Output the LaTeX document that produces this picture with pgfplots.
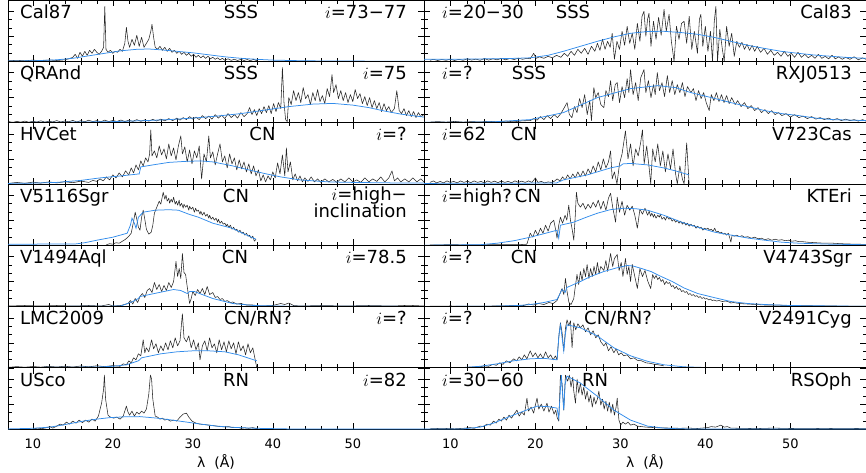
\documentclass[border=0pt]{standalone}
\usepackage{pgfplots}
\pgfplotsset{compat=1.18}
\usepackage{fontspec}
\setmainfont{DejaVu Sans}
\definecolor{modelblue}{RGB}{50,140,235}
\tikzset{lab/.style={font=\fontsize{18}{20}\selectfont, inner sep=0pt}}
\pgfplotsset{
  panel/.style={
    scale only axis, height=61.3pt,
    xmin=6.9, xmax=58.9, ymin=0, ymax=61.3,
    xtick={10,20,30,40,50}, minor x tick num=4,
    ytick={0,25,50}, minor y tick num=2,
    yticklabels={}, xticklabels={},
    major tick length=6pt, minor tick length=3.5pt,
    tick style={black, line width=0.5pt},
    axis line style={line width=0.7pt},
    anchor=north west, clip mode=individual,
  },
  L/.style={panel, width=416pt},
  R/.style={panel, width=442pt},
  bottom/.style={xticklabels={10,20,30,40,50},
    xticklabel shift=6pt,
    x tick label style={font=\fontsize{13}{15}\selectfont}},
  spec/.style={black!85, line width=0.55pt, mark=none, line join=round},
  model/.style={modelblue, line width=0.75pt, mark=none},
}
\begin{document}
\begin{tikzpicture}
\useasboundingbox (0pt,0pt) rectangle (866pt,-472pt);
% ---------------- Row 0 left: Cal87
\begin{axis}[L, at={(8pt,0pt)}]
\addplot[spec] coordinates {(7,0.5)(8,1)(9,0.5)(10,1.2)(11,0.6)(12,1.3)(13,0.8)(14,1.5)(14.5,2.5)(15,4)(15.3,7)(15.6,3)(15.9,9)(16.2,5)(16.5,10)(16.8,6)(17.1,11)(17.4,8)(17.7,12)(18,9)(18.3,7)(18.6,10)(18.85,14)(19.0,55)(19.15,12)(19.4,9)(19.7,11)(20,8)(20.3,10)(20.6,9)(20.9,12)(21.2,10)(21.5,18)(21.7,34)(21.9,20)(22.1,14)(22.4,22)(22.7,16)(23.0,26)(23.3,15)(23.6,24)(23.9,14)(24.2,18)(24.5,22)(24.75,30)(24.9,37)(25.1,24)(25.3,14)(25.6,12)(25.9,15)(26.2,11)(26.5,14)(26.8,10)(27.1,13)(27.4,9)(27.7,11)(28,8)(28.3,10)(28.6,7)(28.9,9)(29.2,6)(29.5,8)(29.8,5)(30.1,7)(30.4,4)(30.7,6)(31,3.5)(31.3,5.5)(31.6,3)(31.9,5)(32.2,2.5)(32.5,4)(32.8,2)(33.1,3.5)(33.4,1.5)(33.7,3)(34,1)(34.4,2.5)(34.8,1)(35.2,2)(35.6,0.8)(36,2)(36.4,0.8)(36.8,1.8)(37.2,0.6)(37.6,2)(38,0.5)};
\addplot[model] coordinates {(6.9,0.3)(10,0.5)(13,1.5)(15,3)(17,5.5)(19,8)(21,10.5)(23,12)(24.5,12.3)(26,11.5)(28,10)(30,8.5)(32,6.5)(34,4.5)(36,3)(38,2)(40,1.2)(44,0.5)(50,0.2)(58.9,0.1)};
\node[lab, anchor=base west] at (rel axis cs:0,1) [xshift=12pt, yshift=-18.3pt] {Cal87};
\node[lab, anchor=base] at (rel axis cs:0,1) [xshift=233pt, yshift=-18.3pt] {SSS};
\node[lab, anchor=base east] at (rel axis cs:1,1) [xshift=-17pt, yshift=-18.3pt] {$i$=73−77};
\end{axis}
% ---------------- Row 0 right: Cal83
\begin{axis}[R, at={(424pt,0pt)}]
\addplot[spec] coordinates {(7.6,1)(8,2)(8.5,0.8)(9,1.8)(9.5,1)(10,2.2)(10.5,0.8)(11,2)(11.5,1)(12,2.5)(12.5,1.2)(13,2.2)(13.5,1)(14,2.8)(14.5,1.2)(15,2.5)(15.5,1.5)(16,3)(16.5,1.5)(17,2.8)(17.5,1.8)(18,3.2)(18.5,2)(19,3)(19.4,2.5)(19.8,8)(20.1,3)(20.5,4.5)(21,3)(21.5,5)(22,3.5)(22.5,6)(23,4)(23.4,8)(23.8,5)(24.2,10)(24.6,6)(25,12)(25.4,8)(25.8,13)(26.2,7)(26.6,15)(27,10)(27.3,18)(27.6,11)(27.9,22)(28.2,12)(28.5,20)(28.8,14)(29.04,28)(29.3,2)(29.6,20)(29.9,12)(30.2,30)(30.5,16)(30.8,35)(31.1,18)(31.4,28)(31.7,12)(32.0,38)(32.3,20)(32.55,45)(32.78,50)(33.0,25)(33.2,42)(33.37,48)(33.6,15)(33.9,40)(34.2,22)(34.5,44)(34.8,26)(35.14,52)(35.4,30)(35.73,47)(36.0,20)(36.32,0)(36.6,35)(36.9,22)(37.2,38)(37.5,40)(37.8,18)(38.1,45)(38.4,12)(38.7,30)(39.07,8)(39.3,42)(39.47,47)(39.7,15)(40.0,35)(40.3,10)(40.6,30)(40.84,0)(41.05,40)(41.24,55)(41.43,0)(41.7,32)(42.0,12)(42.22,0)(42.5,35)(42.8,15)(43.1,28)(43.4,5)(43.7,20)(44.0,14)(44.3,19)(44.6,12)(44.9,17)(45.2,11)(45.5,16)(45.8,10)(46.1,15)(46.5,9)(46.9,13)(47.3,7)(47.7,11)(48.1,6)(48.5,9)(48.9,5)(49.3,10)(49.7,5)(50.1,8)(50.5,4)(50.9,9)(51.3,4)(51.7,7)(52.1,3.5)(52.5,6)(52.9,3)(53.3,7)(53.7,3)(54.1,5)(54.5,2.5)(54.9,6)(55.3,2.5)(55.7,4.5)(56.1,2)(56.5,4)(57,2)(57.5,4.5)(58,1.5)(58.5,3.5)(58.9,2)};
\addplot[model] coordinates {(6.9,2)(12,2.2)(17,2.8)(19.4,3.5)(21.5,6)(23.3,10)(25.3,15)(27.3,20)(29.3,24.5)(31.2,28)(33.2,29.8)(35.1,30)(37.1,28.8)(39.1,27)(41,24)(43,20)(45,16)(46.9,13)(48.9,10)(50.9,8)(52.8,6.3)(54.8,5)(56.8,3.8)(58.9,3)};
\node[lab, anchor=base west] at (rel axis cs:0,1) [xshift=18pt, yshift=-18.3pt] {$i$=20−30};
\node[lab, anchor=base] at (rel axis cs:0,1) [xshift=149pt, yshift=-18.3pt] {SSS};
\node[lab, anchor=base east] at (rel axis cs:1,1) [xshift=-14pt, yshift=-18.3pt] {Cal83};
\end{axis}
% ---------------- Row 1 left: QRAnd
\begin{axis}[L, at={(8pt,-61.3pt)}]
\addplot[spec] coordinates {(7,1)(7.5,0.3)(8,1.2)(8.5,0.5)(9,1.5)(9.5,0.4)(10,1.3)(10.5,0.6)(11,1.8)(11.5,0.5)(12,1.4)(12.5,0.7)(13,2)(13.5,0.6)(14,1.6)(14.5,0.8)(15,2.2)(15.5,0.7)(16,1.9)(16.5,0.9)(17,2.4)(17.5,1)(18,2)(18.5,0.8)(19,2.5)(19.5,1)(20,2.2)(20.5,1.1)(21,2.6)(21.5,1)(22,2.4)(22.5,1.2)(23,3)(23.5,1.3)(24,2.7)(24.5,1.5)(25,3.2)(25.5,1.6)(26,3.5)(26.5,1.8)(27,4)(27.5,2)(28,4.5)(28.4,2.5)(28.8,5)(29.2,3)(29.6,6)(30,3.5)(30.4,5.5)(30.8,3)(31.2,7)(31.6,4)(32,6.5)(32.4,3.5)(32.8,8)(33.2,4.5)(33.6,7.5)(34,4)(34.4,9)(34.8,5)(35.2,8)(35.6,4.5)(36,10)(36.4,6)(36.8,9)(37.1,15)(37.4,8)(37.7,13)(38,7)(38.3,14)(38.6,9)(38.9,16)(39.2,10)(39.5,17)(39.8,9)(40.1,19)(40.4,11)(40.7,20)(41.0,14)(41.2,55)(41.4,20)(41.6,3)(41.8,1)(42.0,25)(42.3,18)(42.6,32)(42.9,22)(43.2,30)(43.5,20)(43.8,35)(44.1,24)(44.4,28)(44.7,18)(45,30)(45.3,22)(45.6,33)(45.9,21)(46.2,27)(46.5,19)(46.8,34)(47.1,26)(47.4,48)(47.6,30)(47.9,38)(48.2,24)(48.5,32)(48.8,22)(49.1,30)(49.4,20)(49.7,28)(50,21)(50.3,33)(50.6,24)(50.9,29)(51.2,19)(51.5,26)(51.8,17)(52.1,25)(52.4,15)(52.7,22)(53,14)(53.3,20)(53.6,11)(53.9,19)(54.2,12)(54.5,16)(54.8,10)(55.2,14)(55.5,32)(55.8,12)(56.1,9)(56.4,14)(56.7,7)(57,12)(57.3,6)(57.6,11)(57.9,5)(58.2,10)(58.5,6)(58.9,8)};
\addplot[model] coordinates {(6.9,0.1)(15,0.5)(20,1)(24,2)(27,3)(30,4.5)(33,6.5)(36,9)(39,12.5)(42,16)(45,18.5)(47.5,19.2)(50,17.5)(52,15)(54,11.5)(56,8.5)(58.9,5.5)};
\node[lab, anchor=base west] at (rel axis cs:0,1) [xshift=12pt, yshift=-18.3pt] {QRAnd};
\node[lab, anchor=base] at (rel axis cs:0,1) [xshift=233pt, yshift=-18.3pt] {SSS};
\node[lab, anchor=base east] at (rel axis cs:1,1) [xshift=-17pt, yshift=-18.3pt] {$i$=75};
\end{axis}
% ---------------- Row 1 right: RXJ0513
\begin{axis}[R, at={(424pt,-61.3pt)}]
\addplot[spec] coordinates {(7.6,0.5)(8.5,1)(9.5,0.5)(10.5,1.2)(11.5,0.5)(12.5,1)(13.5,0.6)(14.5,1.3)(15.5,0.7)(16.5,1.5)(17.5,0.8)(18.5,1.8)(19.4,2)(19.8,4)(20.2,2.5)(20.6,6)(21,3)(21.4,7)(21.8,4)(22.2,8)(22.6,5)(23.0,9)(23.34,14)(23.73,20)(24.0,8)(24.3,5)(24.6,16)(24.9,10)(25.2,24)(25.5,15)(25.8,28)(26.1,8)(26.4,22)(26.6,2)(26.88,35)(27.1,25)(27.4,30)(27.7,18)(28.06,15)(28.3,32)(28.6,26)(28.85,42)(29.1,22)(29.4,38)(29.63,40)(29.9,20)(30.2,36)(30.5,25)(30.8,44)(31.0,30)(31.2,53)(31.5,28)(31.8,40)(32.1,22)(32.4,45)(32.78,53)(33.0,30)(33.3,42)(33.6,25)(33.9,38)(34.1,28)(34.35,50)(34.6,32)(34.9,40)(35.2,26)(35.53,47)(35.8,30)(36.1,42)(36.4,28)(36.7,38)(37.0,30)(37.3,40)(37.6,26)(37.9,36)(38.3,30)(38.6,34)(38.9,22)(39.2,32)(39.5,24)(39.8,30)(40.1,20)(40.45,12)(40.7,28)(41,22)(41.3,30)(41.6,21)(41.9,28)(42.2,20)(42.5,27)(42.8,19)(43.1,25)(43.5,18)(43.8,22)(44.2,16)(44.6,20)(45,14)(45.4,17)(45.8,12)(46.2,15)(46.6,10)(47,13)(47.4,9)(47.8,12)(48.2,8)(48.6,10)(49,7)(49.5,9)(50,5.5)(50.5,8)(51,5)(51.5,6.5)(52,4)(52.5,6)(53,3.5)(53.5,5)(54,3)(54.5,4.5)(55,2.5)(55.5,4)(56,2)(56.5,3.5)(57,2)(57.5,3)(58,1.5)(58.5,3)(58.9,1.5)};
\addplot[model] coordinates {(6.9,0.3)(13,0.5)(15.5,1)(19.4,3)(23.3,10)(27.3,25)(31.2,34)(34.4,37)(36.5,35)(38.3,30)(40.7,25)(43,20)(45,16)(47,12)(49,9)(51,7)(53,4.5)(55,3)(57,2.5)(58.9,2)};
\node[lab, anchor=base west] at (rel axis cs:0,1) [xshift=18pt, yshift=-18.3pt] {$i$=?};
\node[lab, anchor=base] at (rel axis cs:0,1) [xshift=105pt, yshift=-18.3pt] {SSS};
\node[lab, anchor=base east] at (rel axis cs:1,1) [xshift=-14pt, yshift=-18.3pt] {RXJ0513};
\end{axis}
% ---------------- Row 2 left: HVCet
\begin{axis}[L, at={(8pt,-122.6pt)}]
\addplot[spec] coordinates {(7,0.5)(8,1.5)(9,0.6)(10,1.8)(11,0.8)(12,2)(13,1)(14,2.2)(15,1.2)(16,2.8)(17,1.5)(17.5,3.5)(18,2.5)(18.4,5)(18.8,3)(19.2,7)(19.6,4)(20,9)(20.4,6)(20.8,11)(21.2,7)(21.6,13)(22,9)(22.3,16)(22.6,11)(22.9,19)(23.2,14)(23.5,23)(23.8,18)(24.1,26)(24.4,22)(24.6,30)(24.75,54)(24.9,28)(25.2,33)(25.5,26)(25.8,38)(26.1,29)(26.4,35)(26.7,25)(27.0,40)(27.3,28)(27.6,36)(27.9,24)(28.2,38)(28.5,48)(28.7,30)(29.0,37)(29.3,22)(29.6,34)(29.9,20)(30.2,33)(30.5,26)(30.8,38)(31.1,5)(31.4,30)(31.7,22)(32.0,48)(32.2,26)(32.5,32)(32.8,19)(33.1,30)(33.4,40)(33.7,22)(34.0,28)(34.3,16)(34.6,30)(34.9,20)(35.2,26)(35.5,14)(35.8,24)(36.1,15)(36.4,22)(36.7,12)(37.0,20)(37.3,10)(37.6,18)(37.9,8)(38.2,14)(38.5,3)(38.8,9)(39.1,2)(39.4,8)(39.7,4)(40.0,12)(40.3,6)(40.6,21)(40.9,10)(41.2,29)(41.5,8)(41.7,36)(41.9,12)(42.2,22)(42.5,4)(42.8,10)(43.1,3)(43.4,8)(43.7,2)(44,6)(44.4,2.5)(44.8,7)(45.2,2)(45.6,5)(46,1.5)(46.5,5)(47,2)(47.5,4.5)(48,1.5)(48.5,5)(49,2)(49.5,6)(50,2)(50.5,4)(51,1.5)(51.5,6)(52,2)(52.5,5)(53,2.5)(53.5,7)(54,2)(54.5,6)(54.9,13)(55.2,3)(55.6,6)(56,2)(56.5,5)(57,2)(57.5,6)(58,2)(58.5,5)(58.9,2)};
\addplot[model] coordinates {(6.9,0.5)(10,0.8)(13,1.5)(16,3.5)(18.4,6)(21,8)(23.3,10)(23.5,17)(25,19)(27,21.5)(29,22.5)(31,23)(32.5,22)(35,18)(37,14)(39.2,10)(41,7)(43.4,4)(47,2)(50,1.5)(55,1)(58.9,0.8)};
\node[lab, anchor=base west] at (rel axis cs:0,1) [xshift=12pt, yshift=-18.3pt] {HVCet};
\node[lab, anchor=base] at (rel axis cs:0,1) [xshift=254.5pt, yshift=-18.3pt] {CN};
\node[lab, anchor=base east] at (rel axis cs:1,1) [xshift=-17pt, yshift=-18.3pt] {$i$=?};
\end{axis}
% ---------------- Row 2 right: V723Cas
\begin{axis}[R, at={(424pt,-122.6pt)}]
\addplot[spec] coordinates {(7.6,1.5)(8,3)(8.4,1)(8.8,2.5)(9.2,1)(9.6,3)(10,1.5)(10.4,2.5)(10.8,1)(11.2,3)(11.6,1.5)(12,2.8)(12.4,1.2)(12.8,3)(13.2,1.5)(13.6,2.5)(14,1)(14.4,3)(14.8,1.5)(15.2,2.8)(15.6,1.2)(16,3)(16.4,1.5)(16.8,2.5)(17.2,1.2)(17.6,3)(18,1.5)(18.4,2.8)(18.8,1.5)(19.2,3)(19.6,1.5)(20,6)(20.3,1.5)(20.7,2.5)(21.1,1)(21.5,2)(21.9,1.5)(22.3,3)(22.55,5)(22.9,3)(23.2,7)(23.5,4)(23.8,9)(24.1,5)(24.4,10)(24.7,6)(25.0,12)(25.3,7)(25.6,13)(25.9,8)(26.2,15)(26.5,10)(26.8,18)(27.1,12)(27.4,22)(27.7,14)(28.0,25)(28.3,16)(28.6,22)(28.85,33)(29.04,5)(29.3,12)(29.6,0)(29.9,20)(30.2,30)(30.6,53)(30.9,25)(31.2,40)(31.5,18)(31.8,35)(32.1,28)(32.4,42)(32.6,54)(32.8,20)(33.1,38)(33.4,15)(33.57,0)(33.8,35)(34.1,22)(34.4,40)(34.7,18)(35.0,33)(35.3,12)(35.6,30)(35.9,15)(36.2,35)(36.5,10)(36.7,0)(37.0,18)(37.3,5)(37.5,0)(37.8,41)(38.09,0)};
\addplot[model] coordinates {(6.9,0.5)(20,0.8)(22.5,1)(23.3,4)(26.1,9)(28.85,16)(30.0,18)(30.3,20)(31.2,20.5)(33.2,19)(35.1,16)(36.5,13)(38.09,9)};
\node[lab, anchor=base west] at (rel axis cs:0,1) [xshift=18pt, yshift=-18.3pt] {$i$=62};
\node[lab, anchor=base] at (rel axis cs:0,1) [xshift=100pt, yshift=-18.3pt] {CN};
\node[lab, anchor=base east] at (rel axis cs:1,1) [xshift=-14pt, yshift=-18.3pt] {V723Cas};
\end{axis}
% ---------------- Row 3 left: V5116Sgr
\begin{axis}[L, at={(8pt,-183.9pt)}]
\addplot[spec] coordinates {(19.2,0.5)(19.6,1.5)(20,1)(20.4,2.5)(20.8,2)(21.2,4)(21.6,6)(22.0,9)(22.3,12)(22.6,24)(22.8,33)(23.0,26)(23.2,18)(23.4,15)(23.6,28)(23.8,35)(24.0,26)(24.2,16)(24.5,11)(24.8,13)(25.0,20)(25.2,32)(25.5,38)(25.8,44)(26.0,41)(26.3,53)(26.5,46)(26.65,50)(26.8,44)(27.0,47)(27.1,42)(27.3,46)(27.45,43)(27.6,48)(27.8,41)(27.95,44)(28.1,40)(28.3,45)(28.4,39)(28.6,42)(28.8,37)(28.9,41)(29.1,38)(29.3,40)(29.5,35)(29.6,39)(29.8,36)(30.0,38)(30.2,33)(30.35,37)(30.5,34)(30.7,35)(30.9,31)(31.0,34)(31.2,30)(31.4,33)(31.6,29)(31.8,31)(32.0,27)(32.1,30)(32.3,26)(32.5,28)(32.7,25)(32.9,27)(33.1,23)(33.2,26)(33.4,22)(33.6,24)(33.8,21)(34.0,22)(34.2,19)(34.3,21)(34.5,18)(34.7,20)(34.9,16)(35.1,18)(35.3,15)(35.5,16)(35.7,13)(35.9,15)(36.1,12)(36.3,13)(36.5,10)(36.7,12)(36.9,9)(37.1,10)(37.3,7)(37.5,9)(37.7,4)(37.9,6)};
\addplot[model] coordinates {(6.9,1)(15.3,1.2)(16.5,2.5)(18,5)(20,8)(21.8,12)(22.2,20)(22.4,27)(22.7,22)(22.9,17)(23.2,28)(23.8,33)(25.3,35)(27,35.5)(28.2,35)(29.5,31)(30.7,28)(32.5,22)(34.9,17)(36.5,11)(37.9,6)};
\node[lab, anchor=base west] at (rel axis cs:0,1) [xshift=12pt, yshift=-18.3pt] {V5116Sgr};
\node[lab, anchor=base] at (rel axis cs:0,1) [xshift=228pt, yshift=-18.3pt] {CN};
\node[lab, anchor=base east] at (rel axis cs:1,1) [xshift=-17pt, yshift=-17pt] {$i$=high−};
\node[lab, anchor=base east] at (rel axis cs:1,1) [xshift=-17pt, yshift=-34pt] {inclination};
\end{axis}
% ---------------- Row 3 right: KTEri
\begin{axis}[R, at={(424pt,-183.9pt)}]
\addplot[spec] coordinates {(7.6,0.3)(10,0.5)(13,0.3)(16,0.6)(18,0.5)(19.0,1)(19.4,12)(19.7,8)(20.0,15)(20.3,10)(20.6,17)(20.9,12)(21.2,20)(21.5,14)(21.8,22)(22.16,25)(22.4,15)(22.55,7)(22.75,20)(22.95,28)(23.2,22)(23.5,30)(23.7,25)(23.93,40)(24.13,25)(24.35,15)(24.52,5)(24.7,30)(24.83,53)(25.0,42)(25.3,38)(25.6,42)(25.9,36)(26.2,41)(26.5,37)(26.8,43)(27.1,38)(27.4,45)(27.7,36)(28.0,44)(28.3,35)(28.6,47)(28.85,52)(29.1,38)(29.44,23)(29.63,48)(29.9,33)(30.2,44)(30.5,30)(30.8,40)(31.1,35)(31.4,39)(31.7,30)(32.0,17)(32.3,36)(32.6,31)(32.9,37)(33.2,30)(33.4,34)(33.55,29)(33.7,32)(33.9,28)(34.0,31)(34.2,27)(34.4,30)(34.6,28)(34.7,31)(34.9,26)(35.14,28)(35.3,25)(35.5,29)(35.7,26)(35.9,27)(36.1,24)(36.3,26)(36.5,23)(36.7,25)(36.9,22)(37.1,24)(37.3,21)(37.5,23)(37.7,20)(37.9,22)(38.1,19)(38.3,21)(38.5,19)(38.7,20)(38.9,17)(39.1,19)(39.3,17)(39.5,18)(39.7,15)(39.9,17)(40.1,16)(40.3,17)(40.5,15)(40.7,16)(40.9,14)(41.1,17)(41.3,13)(41.5,14)(41.7,12)(41.9,13)(42.1,11)(42.3,12)(42.5,10)(42.7,12)(42.85,8)(43.0,3)(43.15,10)(43.4,9)(43.7,10)(44.0,8.5)(44.3,9.5)(44.6,8)(45,8.5)(45.4,7)(45.8,8)(46.2,6.5)(46.6,7)(47,5.5)(47.4,6.5)(47.8,5)(48.2,6)(48.6,5)(49,5.5)(49.4,4.5)(49.8,5)(50.2,4)(50.6,4.5)(51,3.5)(51.5,3.5)(52,3)(53,2.5)(54,2)(55,2)(56,1.5)(57,1.2)(58,1)(58.9,0.8)};
\addplot[model] coordinates {(6.9,0)(13.5,0.5)(15.5,2)(17.5,4.5)(19.4,8)(21,11.5)(22.55,15)(22.75,7)(22.95,20)(24.5,23)(26,28)(27.3,32)(28.8,35.5)(30.4,37)(31.8,36.5)(33.2,35)(35.1,30)(37.2,23)(39.1,18)(41.1,13)(43.1,10)(45.1,7)(47,5)(49,3)(51,2)(54.8,1)(58.9,0.5)};
\node[lab, anchor=base west] at (rel axis cs:0,1) [xshift=18pt, yshift=-18.3pt] {$i$=high?};
\node[lab, anchor=base] at (rel axis cs:0,1) [xshift=104pt, yshift=-18.3pt] {CN};
\node[lab, anchor=base east] at (rel axis cs:1,1) [xshift=-14pt, yshift=-18.3pt] {KTEri};
\end{axis}
% ---------------- Row 4 left: V1494Aql
\begin{axis}[L, at={(8pt,-245.2pt)}]
\addplot[spec] coordinates {(7,0.5)(9,1)(11,0.5)(13,1)(15,0.5)(17,1)(18.5,0.5)(19.5,2)(20,0.5)(21,1)(21.9,3)(22.2,6)(22.5,2.5)(22.8,8)(23.1,4)(23.4,10)(23.7,13)(24.0,9)(24.3,16)(24.6,18)(24.9,14)(25.2,24)(25.5,17)(25.8,22)(26.1,15)(26.4,21)(26.7,16)(27.0,24)(27.3,19)(27.6,25)(27.9,45)(28.1,30)(28.3,38)(28.5,28)(28.7,53)(28.9,34)(29.1,32)(29.3,20)(29.6,3)(29.8,8)(30.0,15)(30.3,11)(30.6,17)(30.9,13)(31.2,18)(31.5,12)(31.8,20)(32.1,12)(32.5,14)(32.8,9)(33.1,10)(33.4,7)(33.7,8)(34.0,5)(34.3,6)(34.7,4)(35.0,4.5)(35.5,2.5)(36,3)(36.7,1.5)(37.5,1.5)(38.5,0.5)(40,1)(40.5,2)(41,3)(41.5,2)(42,3.5)(42.6,1)(43.5,0.5)(46,1)(49,0.5)(52,1)(55,0.5)(57,1.2)(58.9,0.5)};
\addplot[model] coordinates {(6.9,0)(18,0.2)(21,0.5)(22.5,5)(23.2,8)(23.4,10)(25.5,13.5)(27.6,17)(28.5,16)(29.3,13)(29.6,15)(30.2,15)(31,12.5)(32.5,8)(35,3)(37.6,1)(42,0.3)(58.9,0.1)};
\node[lab, anchor=base west] at (rel axis cs:0,1) [xshift=12pt, yshift=-18.3pt] {V1494Aql};
\node[lab, anchor=base] at (rel axis cs:0,1) [xshift=227pt, yshift=-18.3pt] {CN};
\node[lab, anchor=base east] at (rel axis cs:1,1) [xshift=-17pt, yshift=-18.3pt] {$i$=78.5};
\end{axis}
% ---------------- Row 4 right: V4743Sgr
\begin{axis}[R, at={(424pt,-245.2pt)}]
\addplot[spec] coordinates {(7.6,0.3)(10,0.5)(13,0.3)(16,0.6)(18.62,1)(19.2,2.5)(19.8,1.5)(20.4,3)(21,2)(21.6,4)(22.1,3)(22.55,6)(22.85,12)(23.14,18)(23.35,12)(23.54,28)(23.73,15)(23.95,4)(24.2,2)(24.52,8)(24.7,20)(24.9,32)(25.1,22)(25.3,35)(25.5,26)(25.7,38)(25.9,30)(26.09,42)(26.3,28)(26.5,38)(26.7,30)(26.9,40)(27.1,32)(27.3,44)(27.5,33)(27.7,40)(28.06,36)(28.3,46)(28.5,35)(28.85,53)(29.1,40)(29.3,48)(29.63,52)(29.85,36)(30.1,44)(30.3,30)(30.6,48)(30.8,32)(31.0,40)(31.2,25)(31.4,42)(31.7,30)(32.0,18)(32.3,38)(32.6,30)(32.9,36)(33.2,26)(33.57,18)(33.8,32)(34.0,28)(34.2,31)(34.4,27)(34.6,29)(34.8,25)(35.0,27)(35.2,22)(35.4,25)(35.6,23)(35.8,24)(36.0,20)(36.2,21)(36.4,18)(36.6,20)(36.8,17)(37.0,18)(37.2,15)(37.4,16)(37.6,14)(37.8,15)(38.0,12)(38.2,13)(38.4,11)(38.6,12)(38.8,10)(39.0,11)(39.2,9)(39.4,10)(39.6,8)(39.8,9)(40.0,7.5)(40.2,8)(40.4,6.5)(40.6,7.5)(40.8,6)(41.0,6.5)(41.3,5.5)(41.6,6)(42.0,5)(42.4,5.5)(42.8,4.5)(43.0,3.5)(43.3,4)(44,3)(45,2.5)(46,2)(47,1.5)(48,1.5)(50,1)(52,0.8)(55,0.5)(58.9,0.4)};
\addplot[model] coordinates {(6.9,0)(15,0.3)(18,1)(19.4,2)(21,4)(22.55,7)(23.14,17)(23.5,14)(23.7,19)(25.3,25)(26.5,30)(28.06,35)(29.5,38.5)(30.8,41)(31.5,40.5)(32.5,38)(33.6,35)(34.8,30)(36.1,25)(37.5,18.5)(39.1,13)(41,9)(43,5)(45,3)(47,2)(50,1)(58.9,0.2)};
\node[lab, anchor=base west] at (rel axis cs:0,1) [xshift=18pt, yshift=-18.3pt] {$i$=?};
\node[lab, anchor=base] at (rel axis cs:0,1) [xshift=100pt, yshift=-18.3pt] {CN};
\node[lab, anchor=base east] at (rel axis cs:1,1) [xshift=-14pt, yshift=-18.3pt] {V4743Sgr};
\end{axis}
% ---------------- Row 5 left: LMC2009
\begin{axis}[L, at={(8pt,-306.5pt)}]
\addplot[spec] coordinates {(7,0.5)(8,1.2)(9,0.6)(10,1.3)(11,0.7)(12,1.5)(13,0.8)(14,1.6)(15,0.8)(16,1.8)(17,1)(18,2)(19,1.2)(20,2.2)(20.9,1.5)(21.3,4)(21.7,3)(22.0,7)(22.3,5)(22.6,10)(22.9,8)(23.2,14)(23.5,12)(23.8,28)(24.0,15)(24.2,20)(24.5,16)(24.85,28)(25.1,19)(25.4,24)(25.7,15)(26.0,22)(26.3,17)(26.6,25)(26.9,18)(27.2,27)(27.5,20)(27.8,30)(28.1,22)(28.4,27)(28.7,54)(28.9,30)(29.2,26)(29.5,32)(29.8,20)(30.1,28)(30.4,18)(30.7,25)(30.9,8)(31.2,22)(31.5,27)(31.8,17)(32.1,30)(32.4,20)(32.7,24)(33.0,15)(33.3,28)(33.6,18)(33.9,26)(34.2,16)(34.5,27)(34.8,19)(35.1,25)(35.4,14)(35.7,26)(36.0,17)(36.3,22)(36.6,13)(36.9,24)(37.2,15)(37.5,20)(37.8,8)(38.0,0)};
\addplot[model] coordinates {(6.9,0.2)(18,0.8)(20,1.5)(21.7,3)(23.2,7)(23.6,10)(26,14)(28,16)(30,17)(32,17)(34,16)(35.7,13)(38,7)};
\node[lab, anchor=base west] at (rel axis cs:0,1) [xshift=12pt, yshift=-18.3pt] {LMC2009};
\node[lab, anchor=base] at (rel axis cs:0,1) [xshift=250pt, yshift=-18.3pt] {CN/RN?};
\node[lab, anchor=base east] at (rel axis cs:1,1) [xshift=-17pt, yshift=-18.3pt] {$i$=?};
\end{axis}
% ---------------- Row 5 right: V2491Cyg
\begin{axis}[R, at={(424pt,-306.5pt)}]
\addplot[spec] coordinates {(7.6,0)(10,0.3)(12,0.5)(13.5,1)(14,2)(14.5,1.5)(15,3.5)(15.4,2.5)(15.8,5)(16.2,3.5)(16.6,7)(17.0,5)(17.44,9)(17.8,7)(18.1,11)(18.4,8)(18.7,13)(19.0,9)(19.4,17)(19.7,11)(20.0,15)(20.3,10)(20.6,14)(20.9,9)(21.2,16)(21.5,10)(21.8,13)(22.1,8)(22.35,12)(22.55,8)(22.75,30)(22.95,45)(23.15,35)(23.34,17)(23.55,40)(23.73,48)(23.93,42)(24.13,47)(24.32,20)(24.52,45)(24.75,38)(25.0,44)(25.3,40)(25.6,43)(25.9,36)(26.2,40)(26.5,33)(26.8,37)(27.1,30)(27.4,33)(27.7,26)(28.06,22)(28.3,25)(28.6,17)(28.9,21)(29.24,15)(29.5,19)(29.8,13)(30.1,15)(30.4,12)(30.8,13)(31.2,9)(31.6,10)(32,7.5)(32.5,7)(33,5)(33.5,4.5)(34,3.5)(34.5,3)(35.1,2)};
\addplot[model] coordinates {(6.9,0)(11.5,0.3)(13.5,1.5)(15.5,4)(17.44,7)(19.4,9)(21,9.5)(22.55,8)(22.8,35)(22.95,43)(23.15,30)(23.34,17)(23.55,35)(23.73,43)(25.3,40)(27.27,32)(29.24,20)(31.2,12)(33.2,6.5)(35.14,3)(37.5,1)(40,0.3)(45,0)};
\node[lab, anchor=base west] at (rel axis cs:0,1) [xshift=18pt, yshift=-18.3pt] {$i$=?};
\node[lab, anchor=base] at (rel axis cs:0,1) [xshift=194pt, yshift=-18.3pt] {CN/RN?};
\node[lab, anchor=base east] at (rel axis cs:1,1) [xshift=-14pt, yshift=-18.3pt] {V2491Cyg};
\end{axis}
% ---------------- Row 6 left: USco
\begin{axis}[L, bottom, at={(8pt,-367.8pt)}]
\addplot[spec] coordinates {(10.1,0.3)(10.6,1)(11.1,0.5)(11.6,1.2)(12.15,2.5)(12.5,1)(13.0,3)(13.4,5)(13.8,4)(14.2,7)(14.6,5)(15.0,8)(15.4,6)(15.8,9)(16.2,6.5)(16.6,9)(17.0,7)(17.4,10)(17.8,8)(18.2,13)(18.6,26)(18.85,40)(18.95,54)(19.1,30)(19.4,14)(19.7,12)(20.1,11)(20.5,12)(20.9,10)(21.3,13)(21.7,23)(21.9,17)(22.1,14)(22.4,18)(22.7,13)(23.0,17)(23.3,15)(23.6,18)(23.9,16)(24.2,20)(24.5,35)(24.7,54)(24.85,50)(25.0,30)(25.3,13)(25.6,12)(25.9,10)(26.2,11)(26.5,9)(26.8,10)(27.2,8)(27.6,9)(28.0,8)(28.4,12)(28.8,15)(29.2,16)(29.5,12)(29.9,8)(30.4,6)(30.9,5)(31.5,4.5)(32,4)(32.5,3.5)(33,3)(33.5,2.5)(34,2.2)(34.5,2.5)(35,1.5)(35.5,1.8)(36,1)(36.5,1.2)(37,0.8)(37.5,1.5)(38,0.5)};
\addplot[model] coordinates {(6.9,0.2)(10,0.8)(12.15,2)(14,4.5)(16.3,8)(18,10)(19.65,11.5)(21.5,12.3)(23.4,12.5)(25.5,11)(27,9.5)(28.8,7.5)(31,5)(33,3)(35,1.8)(38,0.8)(42,0.2)(58.9,0)};
\node[lab, anchor=base west] at (rel axis cs:0,1) [xshift=12pt, yshift=-18.3pt] {USco};
\node[lab, anchor=base] at (rel axis cs:0,1) [xshift=228pt, yshift=-18.3pt] {RN};
\node[lab, anchor=base east] at (rel axis cs:1,1) [xshift=-17pt, yshift=-18.3pt] {$i$=82};
\node[font=\fontsize{14}{16}\selectfont, anchor=base, inner sep=0pt] at (rel axis cs:0.5,0) [yshift=-38.5pt] {λ\ \ (Å)};
\end{axis}
% ---------------- Row 6 right: RSOph
\begin{axis}[R, bottom, at={(424pt,-367.8pt)}]
\addplot[spec] coordinates {(7.6,0.3)(9,0.8)(10.5,0.3)(11.54,0.8)(12.33,1.5)(12.8,0.8)(13.51,3)(13.9,2.5)(14.3,5)(14.7,4)(15.08,8)(15.4,6)(15.7,10)(16.0,8)(16.3,12)(16.6,9)(16.9,14)(17.2,11)(17.5,15)(17.83,19)(18.1,13)(18.4,17)(18.7,14)(19.01,31)(19.2,18)(19.5,22)(19.8,16)(20.0,24)(20.2,31)(20.4,20)(20.7,25)(21.0,18)(21.37,26)(21.6,17)(21.9,23)(22.2,15)(22.4,19)(22.55,12)(22.75,8)(22.95,54)(23.15,45)(23.34,19)(23.54,54)(23.8,48)(24.0,54)(24.2,42)(24.4,52)(24.52,38)(24.72,26)(24.91,50)(25.1,36)(25.3,46)(25.5,34)(25.7,42)(25.9,30)(26.09,38)(26.3,27)(26.5,34)(26.7,22)(26.9,32)(27.1,25)(27.3,30)(27.47,38)(27.7,24)(27.9,30)(28.1,20)(28.3,28)(28.5,18)(28.7,27)(28.9,16)(29.1,25)(29.3,14)(29.5,22)(29.63,31)(29.83,9)(30.03,4)(30.3,7)(30.6,5)(30.9,7)(31.2,4)(31.6,5)(31.99,3)(32.5,2.5)(33,2)(34,1.5)(35,1.2)(36,1)(37,0.8)(38,1)(39.07,0.6)(40.25,1.5)(40.7,2.5)(41.2,2)(41.83,4)(42.2,2)(42.6,2.5)(43.0,1)(44,0.8)(46,0.5)(48,1)(50,0.6)(52,0.8)(54,0.5)(56,0.8)(58.9,0.5)};
\addplot[model] coordinates {(6.9,0)(11.5,0.2)(13.5,2)(15.08,6)(17.4,14)(20.2,23)(21.5,22.5)(22.55,21)(22.75,11)(22.95,40)(23.06,54)(23.2,35)(23.34,19)(23.5,45)(23.73,53)(25.3,46)(27.27,33)(29.24,19)(31.2,9)(33.2,3)(35.1,1)(37,0.3)(40,0)(58.9,0)};
\node[lab, anchor=base west] at (rel axis cs:0,1) [xshift=18pt, yshift=-18.3pt] {$i$=30−60};
\node[lab, anchor=base] at (rel axis cs:0,1) [xshift=171pt, yshift=-18.3pt] {RN};
\node[lab, anchor=base east] at (rel axis cs:1,1) [xshift=-14pt, yshift=-18.3pt] {RSOph};
\node[font=\fontsize{14}{16}\selectfont, anchor=base, inner sep=0pt] at (rel axis cs:0.5,0) [yshift=-38.5pt] {λ\ \ (Å)};
\end{axis}
\end{tikzpicture}
\end{document}
